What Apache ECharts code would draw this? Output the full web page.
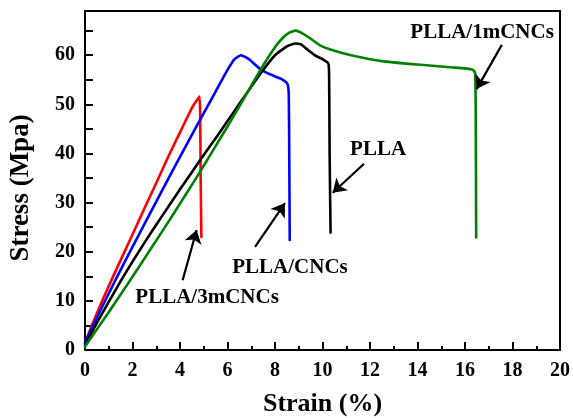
<!DOCTYPE html>
<html>
<head>
<meta charset="utf-8">
<script src="https://cdn.jsdelivr.net/npm/echarts@6/dist/echarts.min.js"></script>
<style>
html,body{margin:0;padding:0;background:#fff;}
#chart{width:573px;height:418px;}
</style>
</head>
<body>
<div id="chart"></div>
<script>
// PLLA/3mCNCs (red)
const red_strain = [0, 0.5, 1, 1.5, 2, 2.5, 3, 3.5, 4, 4.3, 4.55, 4.75, 4.82, 4.85, 4.87, 4.9];
const red_stress = [1.5, 7.5, 13, 18.3, 23.5, 28.8, 34, 39.3, 44.3, 47.3, 49.7, 51.1, 51.6, 48, 35, 23];
// PLLA/CNCs (blue)
const blue_strain = [0, 0.5, 1, 1.5, 2, 2.5, 3, 3.5, 4, 4.5, 5, 5.5, 6, 6.3, 6.57, 6.9, 7.4, 7.8, 8.3, 8.52, 8.58, 8.6, 8.62];
const blue_stress = [1.5, 6.6, 11.5, 16.3, 21, 25.6, 30.2, 34.8, 39.3, 43.8, 48.2, 52.6, 57, 59.2, 60, 59.2, 57.1, 56.1, 55.1, 54.2, 52, 40, 22.4];
// PLLA (black)
const black_strain = [0, 0.5, 1, 1.5, 2, 2.5, 3, 3.5, 4, 4.5, 5, 5.5, 6, 6.5, 7, 7.5, 8, 8.5, 8.86, 9.1, 9.35, 9.7, 10.0, 10.25, 10.28, 10.3, 10.34];
const black_stress = [1, 5.5, 9.8, 14, 18, 21.8, 25.5, 29.1, 32.7, 36.2, 39.7, 43.1, 46.6, 50.1, 53.6, 57, 60, 61.8, 62.4, 62.2, 61.2, 59.9, 59.2, 58.3, 55, 40, 23.9];
// PLLA/1mCNCs (green)
const green_strain = [0, 0.5, 1, 1.5, 2, 2.5, 3, 3.5, 4, 4.5, 5, 5.5, 6, 6.5, 7, 7.5, 8, 8.3, 8.6, 8.86, 9.1, 9.4, 9.9, 10.5, 11.2, 12.5, 14, 15.5, 16.3, 16.42, 16.45, 16.47];
const green_stress = [0.7, 4.2, 7.7, 11.3, 14.9, 18.6, 22.3, 26, 29.8, 33.6, 37.5, 41.5, 45.5, 49.6, 53.8, 57.9, 61.6, 63.4, 64.6, 65, 64.6, 63.7, 62, 60.9, 60, 58.8, 58.1, 57.5, 57.1, 56.5, 50, 22.9];

// annotations
const label_texts = ['PLLA/1mCNCs', 'PLLA', 'PLLA/CNCs', 'PLLA/3mCNCs'];
const label_x = [16.72, 12.34, 8.63, 5.14];
const label_y = [64.6, 40.7, 16.8, 10.6];
const arrow_from_x = [17.55, 11.75, 7.16, 4.11];
const arrow_from_y = [62.1, 37.9, 21.0, 14.2];
const arrow_to_x = [16.49, 10.43, 8.42, 4.70];
const arrow_to_y = [53.1, 32.0, 29.9, 24.4];

// axes
const x_min = 0, x_max = 20, x_step = 2;
const y_min = 0, y_max = 69, y_step = 5;

const FONT = "'Liberation Serif', 'Times New Roman', serif";
const zip = (a, b) => a.map((v, i) => [v, b[i]]);

function curve(name, xs, ys, color) {
  return {
    name: name, type: 'line', data: zip(xs, ys),
    symbol: 'none', smooth: 0.15,
    lineStyle: { color: color, width: 2.6, join: 'round', cap: 'round' },
    z: 3
  };
}

const chart = echarts.init(document.getElementById('chart'), null, { renderer: 'canvas' });
chart.setOption({
  animation: false,
  backgroundColor: '#fff',
  grid: { left: 85, right: 13, top: 11, bottom: 68, outerBoundsMode: 'none', containLabel: false,
    show: true, borderColor: '#000', borderWidth: 2, backgroundColor: 'transparent' },
  xAxis: {
    type: 'value', min: x_min, max: x_max, interval: x_step,
    name: 'Strain (%)', nameLocation: 'middle', nameGap: 41,
    nameTextStyle: { fontFamily: FONT, fontWeight: 'bold', fontSize: 26, color: '#000' },
    axisLine: { show: true, lineStyle: { color: '#000', width: 2 } },
    axisTick: { show: true, inside: true, length: 8, lineStyle: { color: '#000', width: 2 } },
    minorTick: { show: true, splitNumber: 2, length: 4, lineStyle: { color: '#000', width: 2 } },
    axisLabel: { margin: 11, fontFamily: FONT, fontWeight: 'bold', fontSize: 20, color: '#000' },
    splitLine: { show: false }
  },
  yAxis: {
    type: 'value', min: y_min, max: y_max, interval: y_step,
    name: 'Stress (Mpa)', nameLocation: 'middle', nameGap: 50,
    nameTextStyle: { fontFamily: FONT, fontWeight: 'bold', fontSize: 27, color: '#000', padding: [0, 15, 0, 0] },
    axisLine: { show: true, lineStyle: { color: '#000', width: 2 } },
    axisTick: { show: true, inside: true, length: 8, lineStyle: { color: '#000', width: 2 } },
    axisLabel: { margin: 10, fontFamily: FONT, fontWeight: 'bold', fontSize: 20, color: '#000',
      formatter: v => (v % 10 === 0 ? String(v) : '') },
    splitLine: { show: false }
  },
  series: [
    curve('PLLA/3mCNCs', red_strain, red_stress, '#ff0000'),
    curve('PLLA/CNCs', blue_strain, blue_stress, '#0000ff'),
    curve('PLLA', black_strain, black_stress, '#000000'),
    curve('PLLA/1mCNCs', green_strain, green_stress, '#008000'),
    {
      type: 'lines', coordinateSystem: 'cartesian2d', z: 5,
      symbol: ['none', 'arrow'], symbolSize: [0, 13],
      lineStyle: { color: '#000', width: 2.2, opacity: 1 },
      data: arrow_from_x.map((v, i) => ({ coords: [[v, arrow_from_y[i]], [arrow_to_x[i], arrow_to_y[i]]] }))
    },
    {
      type: 'scatter', symbolSize: 0, z: 6,
      itemStyle: { opacity: 1 },
      data: label_texts.map((t, i) => ({ name: t, value: [label_x[i], label_y[i]] })),
      label: { show: true, position: 'inside', formatter: p => p.name, opacity: 1,
        fontFamily: FONT, fontWeight: 'bold', fontSize: 21, color: '#000', textBorderWidth: 0 }
    }
  ]
});
</script>
</body>
</html>
